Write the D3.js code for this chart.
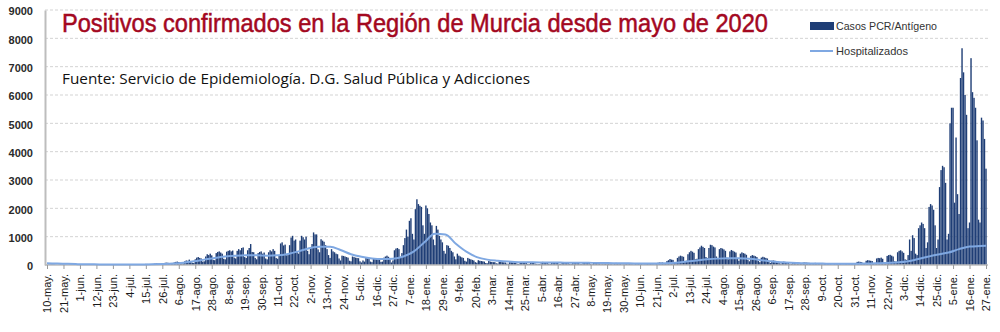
<!DOCTYPE html>
<html><head><meta charset="utf-8">
<script src="https://cdn.jsdelivr.net/npm/d3@7"></script>
<style>body{margin:0;background:#fff}svg{display:block}</style>
</head><body><svg id="c" width="1000" height="332"></svg>
<script>
const titleText = "Positivos confirmados en la Región de Murcia desde mayo de 2020";
const sourceText = "Fuente: Servicio de Epidemiología. D.G. Salud Pública y Adicciones";
const seriesNames = ["Casos PCR/Antígeno", "Hospitalizados"];
const yTicks = [0,1000,2000,3000,4000,5000,6000,7000,8000,9000];
const tickLabels = ["10-may.","21-may.","1-jun.","12-jun.","23-jun.","4-jul.","15-jul.","26-jul.","6-ago.","17-ago.","28-ago.","8-sep.","19-sep.","30-sep.","11-oct.","22-oct.","2-nov.","13-nov.","24-nov.","5-dic.","16-dic.","27-dic.","7-ene.","18-ene.","29-ene.","9-feb.","20-feb.","3-mar.","14-mar.","25-mar.","5-abr.","16-abr.","27-abr.","8-may.","19-may.","30-may.","10-jun.","21-jun.","2-jul.","13-jul.","24-jul.","4-ago.","15-ago.","26-ago.","6-sep.","17-sep.","28-sep.","9-oct.","20-oct.","31-oct.","11-nov.","22-nov.","3-dic.","14-dic.","25-dic.","5-ene.","16-ene.","27-ene."];

// daily cases, one row per week (Sun..Sat), starting Sun 10-may-2020
const cases2020 = [
[8,15,20,18,22,15,10],[6,12,18,15,14,12,8],[5,10,14,12,15,10,6],[4,8,12,10,9,8,5],
[3,6,10,8,12,7,4],[4,8,9,11,10,9,5],[5,10,12,15,13,11,6],[6,14,18,16,20,15,8],
[10,20,28,25,30,24,14],[12,28,35,40,38,30,18],[18,40,50,55,52,45,25],[25,60,80,85,75,70,40],
[40,90,110,120,105,100,60],[55,130,160,150,190,140,80],[70,200,260,280,250,230,120],[130,300,380,350,400,340,180],
[170,420,460,480,440,400,220],[200,470,500,520,480,510,260],[230,500,560,520,600,620,280],[250,520,600,740,460,450,250],
[200,420,460,480,400,440,230],[200,450,520,480,560,500,250],[220,320,760,800,690,720,340],[350,700,970,1030,860,900,450],
[400,860,1030,980,900,1000,500],[380,600,740,1150,1080,1080,550],[450,910,860,820,700,560,350],[250,560,480,450,400,380,230],
[160,330,320,300,280,260,150],[130,300,280,260,250,240,130],[90,160,120,250,230,210,120],[100,230,240,220,210,200,110],
[120,260,300,330,290,200,90],[160,520,580,600,560,250,420]
];
const cases2021 = [
[700,950,1250,1000,1560,1650,1100],[900,1970,2320,2150,2090,2050,1400],[1100,2100,2000,1800,1500,1400,900],[700,1380,1250,1030,900,800,500],
[400,700,680,600,500,450,300],[200,400,330,300,270,250,150],[120,250,220,200,180,160,100],[80,170,150,140,130,120,70],
[60,140,120,110,100,100,60],[50,120,110,100,95,90,50],[45,110,100,95,90,85,45],[40,100,95,90,85,80,40],
[40,100,95,90,50,40,35],[35,60,110,100,95,90,45],[40,100,105,95,90,85,40],[40,95,100,90,95,80,40],
[35,90,95,85,80,75,35],[30,85,90,80,75,70,35],[30,80,85,75,70,65,30],[30,75,80,70,65,60,30],
[25,70,75,65,60,55,25],[25,65,70,60,55,55,25],[25,60,65,60,55,50,25],[25,55,60,55,60,55,25],
[30,70,80,90,85,90,40],[50,140,170,210,190,180,80],[90,250,300,330,310,290,140],[150,380,450,500,470,430,200],
[220,560,620,680,640,600,280],[250,600,715,700,650,620,300],[230,560,600,580,550,500,260],[200,480,530,500,470,440,220],
[150,400,445,420,400,360,180],[130,320,350,330,310,280,140],[100,260,290,270,250,230,110],[70,150,160,150,140,130,60],
[50,110,120,110,100,95,45],[40,95,100,95,90,85,40],[35,85,90,85,80,75,35],[30,70,75,70,65,60,30],
[25,60,45,65,60,55,25],[25,60,70,65,60,55,25],[25,65,70,70,65,60,30],[30,60,110,120,110,100,50],
[40,150,170,160,150,140,70],[60,230,250,240,260,220,100],[90,320,350,360,330,300,130],[120,450,500,520,480,430,200],
[180,350,900,500,1050,950,400],[350,1300,1400,1500,1450,1300,600],[800,2050,2150,2100,1950,1400,600],[900,2750,3350,3500,3450,2900,900]
];
const cases2022 = [
[1100,5000,5550,5550,2200,4500,2500],[1800,6600,7650,6800,6000,5300,1300],[1500,7300,6100,5900,5550,4400,1600],[1500,5200,5100,4450,3400]
];
// hospitalized, one reading per week (Sundays) plus the last day
const hospWeekly = [60,50,40,30,25,20,15,15,15,20,25,35,50,80,130,190,250,300,330,340,
340,330,340,390,480,590,640,640,530,380,290,230,210,220,300,480,800,1100,1080,750,
470,280,190,150,120,100,95,90,90,85,80,80,75,70,65,60,55,50,50,60,
80,120,160,200,225,235,235,220,180,130,100,80,65,55,50,45,45,45,50,60,
70,90,120,200,290,370,440,560,650,670,680];

const cases = [].concat(...cases2020, ...cases2021, ...cases2022);
const nDays = cases.length; // 628
const hosp = hospWeekly.map((v,i)=>({d: Math.min(i*7, nDays-1), v}));

const svg = d3.select("#c");
const x = d3.scaleLinear().domain([0, nDays-1]).range([47, 986]);
const y = d3.scaleLinear().domain([0, 9000]).range([265, 10]);

// gridlines
svg.append("g").selectAll("line").data(yTicks.filter(t=>t>0)).join("line")
  .attr("x1", 45).attr("x2", 988).attr("y1", d=>y(d)).attr("y2", d=>y(d))
  .attr("stroke", "#d3d3d3").attr("stroke-width", 1).attr("stroke-dasharray", "3,2");

// y axis
const ya = svg.append("g").attr("transform","translate(45,0)")
  .call(d3.axisLeft(y).tickValues(yTicks).tickSize(0).tickPadding(12).tickFormat(d3.format("d")));
ya.select(".domain").attr("stroke","#bdbdbd").attr("stroke-width",2);
ya.selectAll("text").attr("font-family","Liberation Sans, Arial, sans-serif").attr("font-size",11)
  .attr("font-weight","bold").attr("fill","#2a2a2a").attr("dy","0.45em");

// bars
const bw = 1.4;
svg.append("g").selectAll("rect").data(cases).join("rect")
  .attr("x", (d,i)=>x(i)-bw/2).attr("width", bw)
  .attr("y", d=>y(d)).attr("height", d=>y(0)-y(d))
  .attr("fill", "#1f3e76");

// x axis
const xa = svg.append("g").attr("transform","translate(0,265)")
  .call(d3.axisBottom(x).tickValues(d3.range(0, nDays, 11)).tickSize(4).tickFormat((d,i)=>tickLabels[i]));
xa.select(".domain").attr("stroke","#bdbdbd").attr("stroke-width",1.5).attr("d","M45,0H988");
xa.selectAll(".tick line").attr("stroke","#9a9a9a");
xa.selectAll("text").attr("font-family","Liberation Sans, Arial, sans-serif").attr("font-size",11)
  .attr("fill","#1a1a1a").attr("transform","rotate(-90)").attr("text-anchor","end")
  .attr("x",-9).attr("y",0).attr("dy","0.35em");

// line
svg.append("path").datum(hosp)
  .attr("d", d3.line().x(d=>x(d.d)).y(d=>y(d.v)).curve(d3.curveMonotoneX))
  .attr("fill","none").attr("stroke","#7fa8e2").attr("stroke-width",2);

// title
svg.append("text").attr("x",62).attr("y",32).text(titleText)
  .attr("font-family","Liberation Sans, Arial, sans-serif").attr("font-size",25)
  .attr("fill","#a3081f").attr("stroke","#a3081f").attr("stroke-width",0.5)
  .attr("textLength",706).attr("lengthAdjust","spacingAndGlyphs");
svg.append("text").attr("x",62).attr("y",84).text(sourceText)
  .attr("font-family","Open Sans, Liberation Sans, sans-serif").attr("font-size",14)
  .attr("fill","#111").attr("textLength",468).attr("lengthAdjust","spacingAndGlyphs");

// legend
const lg = svg.append("g");
lg.append("rect").attr("x",810).attr("y",22).attr("width",24).attr("height",8).attr("fill","#1f3e76");
lg.append("text").attr("x",836).attr("y",30).text(seriesNames[0])
  .attr("font-family","Liberation Sans, Arial, sans-serif").attr("font-size",11).attr("fill","#333")
  .attr("textLength",101).attr("lengthAdjust","spacingAndGlyphs");
lg.append("line").attr("x1",810).attr("x2",833).attr("y1",51).attr("y2",51).attr("stroke","#7fa8e2").attr("stroke-width",2);
lg.append("text").attr("x",836).attr("y",55).text(seriesNames[1])
  .attr("font-family","Liberation Sans, Arial, sans-serif").attr("font-size",11).attr("fill","#333")
  .attr("textLength",72).attr("lengthAdjust","spacingAndGlyphs");
</script></body></html>
